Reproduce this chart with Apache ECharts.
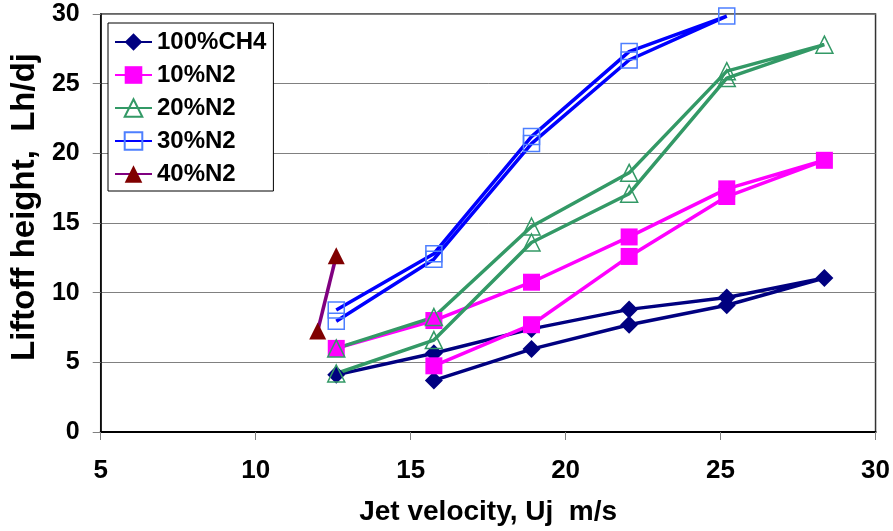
<!DOCTYPE html>
<html>
<head>
<meta charset="utf-8">
<title>Liftoff height vs jet velocity</title>
<script src="https://cdn.jsdelivr.net/npm/echarts@6/dist/echarts.min.js"></script>
<style>
  html, body { margin: 0; padding: 0; background: #fff; }
  #main { width: 893px; height: 531px; }
</style>
</head>
<body>
<div id="main"></div>
<script>
// each gas: up the upper branch, then back down the lower branch
var seriesNames = ["100%CH4", "10%N2", "20%N2", "30%N2", "40%N2"];

var ch4X = [12.6, 15.75, 18.9, 22.05, 25.2, 28.35, 25.2, 22.05, 18.9, 15.75];
var ch4Y = [4.1, 5.65, 7.4, 8.8, 9.65, 11.05, 9.1, 7.7, 5.95, 3.7];

var n10X = [12.6, 15.75, 18.9, 22.05, 25.2, 28.35, 25.2, 22.05, 18.9, 15.75];
var n10Y = [6.0, 8.0, 10.75, 14.0, 17.45, 19.5, 16.9, 12.6, 7.7, 4.75];

var n20X = [12.6, 15.75, 18.9, 22.05, 25.2, 28.35, 25.2, 22.05, 18.9, 15.75, 12.6];
var n20Y = [6.0, 8.25, 14.75, 18.6, 25.9, 27.8, 25.4, 17.1, 13.6, 6.6, 4.2];

var n30X = [12.6, 15.75, 18.9, 22.05, 25.2, 22.05, 18.9, 15.75, 12.6];
var n30Y = [8.75, 12.8, 21.2, 27.3, 29.85, 26.7, 20.7, 12.4, 7.95];

var n40X = [12.0, 12.6];
var n40Y = [7.25, 12.65];

var xTicks = [5, 10, 15, 20, 25, 30];
var yTicks = [0, 5, 10, 15, 20, 25, 30];

var FONT = '"Liberation Sans", Arial, sans-serif';

function pairs(xs, ys) {
  var out = [];
  for (var i = 0; i < xs.length; i++) out.push([xs[i], ys[i]]);
  return out;
}

var chart = echarts.init(document.getElementById('main'), null, { renderer: 'canvas' });

var option = {
  animation: false,
  backgroundColor: '#fff',
  grid: {
    left: 98, right: 15, top: 14, bottom: 88,
    show: true, borderColor: '#333', borderWidth: 1.5, backgroundColor: '#fff'
  },
  legend: {
    data: seriesNames,
    orient: 'vertical',
    left: 108, top: 23,
    padding: [7, 7, 5, 6],
    itemGap: 9,
    itemWidth: 37, itemHeight: 22,
    backgroundColor: '#fff',
    borderColor: '#000', borderWidth: 1,
    textStyle: { fontFamily: FONT, fontWeight: 'bold', fontSize: 24, lineHeight: 24, color: '#000' }
  },
  xAxis: {
    type: 'value',
    min: xTicks[0], max: xTicks[xTicks.length - 1], interval: 5,
    name: 'Jet velocity, Uj  m/s',
    nameLocation: 'middle', nameGap: 66,
    nameTextStyle: { fontFamily: FONT, fontWeight: 'bold', fontSize: 28, color: '#000' },
    axisLine: { lineStyle: { color: '#000', width: 2 } },
    axisTick: { show: true, length: 8, lineStyle: { color: '#808080' } },
    axisLabel: { margin: 26, fontFamily: FONT, fontWeight: 'bold', fontSize: 26, color: '#000' },
    splitLine: { show: false }
  },
  yAxis: {
    type: 'value',
    min: yTicks[0], max: yTicks[yTicks.length - 1], interval: 5,
    name: 'Liftoff height,  Lh/dj',
    nameLocation: 'middle', nameGap: 51,
    nameTextStyle: { fontFamily: FONT, fontWeight: 'bold', fontSize: 33, color: '#000', padding: [0, 0, 0, 32] },
    axisLine: { show: true, lineStyle: { color: '#000', width: 1.5 } },
    axisTick: { show: true, length: 8, lineStyle: { color: '#808080' } },
    axisLabel: { margin: 21, fontFamily: FONT, fontWeight: 'bold', fontSize: 25, color: '#000' },
    splitLine: { show: true, lineStyle: { color: '#808080', width: 1 } }
  },
  series: [
    {
      name: seriesNames[0], type: 'line', data: pairs(ch4X, ch4Y),
      symbol: 'diamond', symbolSize: 18,
      lineStyle: { color: '#000080', width: 3.5 },
      itemStyle: { color: '#000080' }
    },
    {
      name: seriesNames[1], type: 'line', data: pairs(n10X, n10Y),
      symbol: 'rect', symbolSize: 17,
      lineStyle: { color: '#ff00ff', width: 3.5 },
      itemStyle: { color: '#ff00ff' }
    },
    {
      name: seriesNames[2], type: 'line', data: pairs(n20X, n20Y),
      symbol: 'triangle', symbolSize: 17,
      lineStyle: { color: '#339966', width: 3.5 },
      itemStyle: { color: 'rgba(255,255,255,0)', borderColor: '#339966', borderWidth: 1.5 }
    },
    {
      name: seriesNames[3], type: 'line', data: pairs(n30X, n30Y),
      symbol: 'rect', symbolSize: 16,
      lineStyle: { color: '#0000ff', width: 3.5 },
      itemStyle: { color: 'rgba(255,255,255,0)', borderColor: '#4d7fff', borderWidth: 1.5 }
    },
    {
      name: seriesNames[4], type: 'line', data: pairs(n40X, n40Y),
      symbol: 'triangle', symbolSize: 17,
      lineStyle: { color: '#800080', width: 3.5 },
      itemStyle: { color: '#800000' }
    }
  ]
};

chart.setOption(option);
</script>
</body>
</html>
